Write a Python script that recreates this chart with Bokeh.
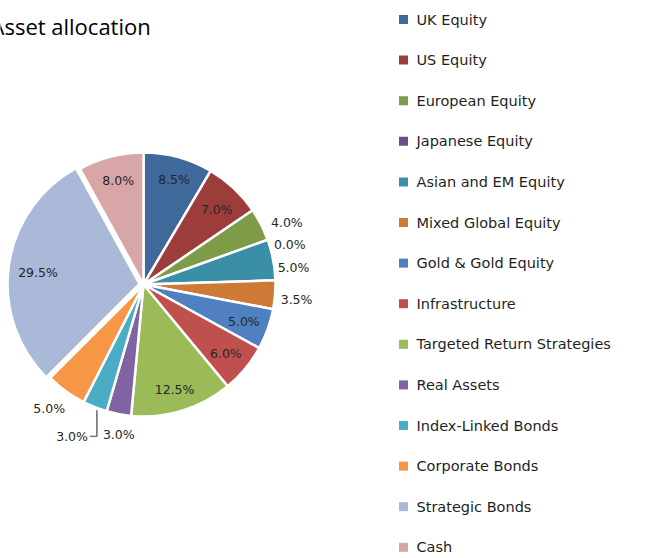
import math
from bokeh.plotting import figure
from bokeh.models import Range1d
from bokeh.core.properties import value
from bokeh.embed import file_html
from bokeh.resources import INLINE

# ---- data ----
categories = ["UK Equity", "US Equity", "European Equity", "Japanese Equity",
              "Asian and EM Equity", "Mixed Global Equity", "Gold & Gold Equity",
              "Infrastructure", "Targeted Return Strategies", "Real Assets",
              "Index-Linked Bonds", "Corporate Bonds", "Strategic Bonds", "Cash"]
weights = [8.5, 7.0, 4.0, 0.0, 5.0, 3.5, 5.0, 6.0, 12.5, 3.0, 3.0, 5.0, 29.5, 8.0]
colors = ["#3F689B", "#9D3D3B", "#7E9B48", "#67508A", "#3A8EA6", "#CD7A37",
          "#4F80C0", "#C0504D", "#9BBB59", "#8064A2", "#4BACC6", "#F79646",
          "#A9B9D7", "#D9A6A7"]
title = "Asset allocation"

W, H = 650, 558
p = figure(width=W, height=H, output_backend="svg", toolbar_location=None,
           x_range=Range1d(0, W), y_range=Range1d(0, H), min_border=0)
p.axis.visible = False
p.grid.visible = False
p.outline_line_color = None
p.background_fill_color = "white"
p.border_fill_color = "white"

# layout (screen px, y measured from top)
cx, cy, R = 143, 284, 132
explode = {12: 4}
# label layout: (radial factor, nudge x, nudge y (down), align)
lab_layout = [
    (0.82, 2, -1, "center"), (0.80, 1, 2, "center"), (1.05, 4, 1, "left"),
    (1.05, 0, 7, "left"), (1.05, -2, 9, "left"), (1.05, -1, 4, "left"),
    (0.80, 1, 1, "center"), (0.80, 1, 2, "center"), (0.80, 0, 4, "center"),
    (1.12, 3, 5, "center"), None, (1.05, 3, 12, "right"),
    (0.80, 3, 3, "center"), (0.80, 1, -2, "center"),
]

total = sum(weights)
cum = 0.0
for i, w in enumerate(weights):
    a0 = cum / total * 2 * math.pi
    a1 = (cum + w) / total * 2 * math.pi
    mid = (a0 + a1) / 2
    cum += w
    ex = explode.get(i, 0)
    ox = cx + ex * math.sin(mid)
    oy = cy - ex * math.cos(mid)
    if w > 0:
        p.wedge(x=ox, y=H - oy, radius=R,
                start_angle=math.pi / 2 - a0, end_angle=math.pi / 2 - a1,
                direction="clock", fill_color=colors[i],
                line_color="white", line_width=2.5)
    lbl = f"{w:.1f}%"
    lay = lab_layout[i]
    if lay is None:
        # leader-line label
        exx = cx + R * math.sin(mid) + 2
        eyy = cy - R * math.cos(mid) + 3
        p.line(x=[exx, exx, exx - 7], y=[H - eyy, H - (eyy + 26), H - (eyy + 26)],
               line_color="#404040", line_width=1.2)
        p.text(x=[exx - 9], y=[H - (eyy + 26)], text=[lbl], text_align="right",
               text_baseline="middle", text_font=value("DejaVu Sans"),
               text_font_size="12.5px", text_color="#262626")
        continue
    f, nx, ny, al = lay
    lx = ox + f * R * math.sin(mid) + nx
    ly = oy - f * R * math.cos(mid) + ny
    p.text(x=[lx], y=[H - ly], text=[lbl], text_align=al, text_baseline="middle",
           text_font=value("DejaVu Sans"), text_font_size="12.5px", text_color="#262626")

# legend
lx0, ly0, step = 398, 19, 40.6
for i, c in enumerate(categories):
    yy = ly0 + i * step
    p.rect(x=[lx0 + 5], y=[H - yy], width=9, height=9, fill_color=colors[i],
           line_color=None)
    p.text(x=[lx0 + 18], y=[H - yy], text=[c], text_baseline="middle",
           text_font=value("DejaVu Sans"), text_font_size="14.5px",
           text_color="#1f1f1f")

# title (clipped at left edge as in the original)
p.text(x=[-10], y=[H - 25], text=[title], text_baseline="alphabetic",
       text_font=value("Open Sans"), text_font_size="22px", text_color="black")

open("out.html", "w").write(file_html(p, INLINE))
